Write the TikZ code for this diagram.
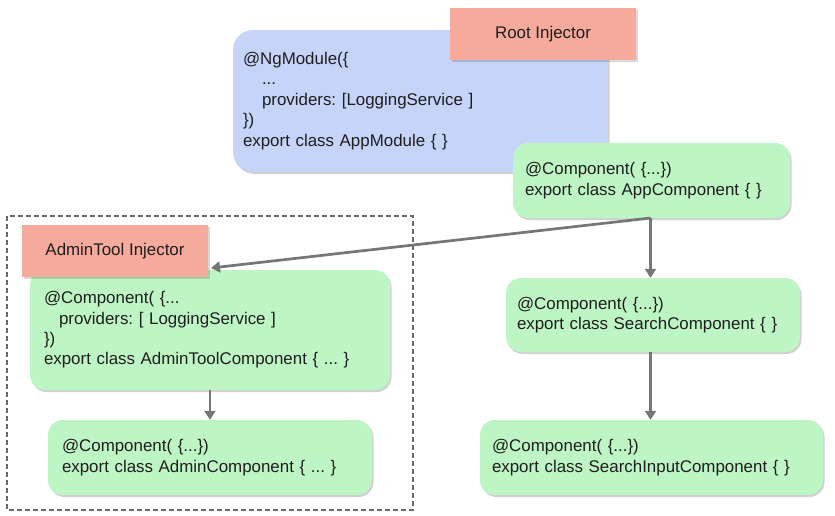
\documentclass[tikz,border=0pt]{standalone}
\usepackage{fontspec}
\setmainfont{Liberation Sans}
\usetikzlibrary{arrows.meta,shadows}
\definecolor{boxblue}{RGB}{198,212,250}
\definecolor{boxgreen}{RGB}{190,245,196}
\definecolor{injsalmon}{RGB}{246,170,155}
\definecolor{arrowgray}{RGB}{118,118,118}
\definecolor{dashgray}{RGB}{105,105,105}
\definecolor{txt}{RGB}{30,30,30}
\tikzset{
  codebox/.style={rounded corners=15pt, inner ysep=0pt, align=left, text=txt,
    font=\fontsize{16.9}{20.4}\selectfont\frenchspacing,
    drop shadow={shadow xshift=1.5pt, shadow yshift=-2pt, opacity=0.18, fill=black}},
  injbox/.style={fill=injsalmon, inner sep=0pt, text=txt, font=\fontsize{16.9}{20.4}\selectfont,
    drop shadow={shadow xshift=1.5pt, shadow yshift=-1.5pt, opacity=0.15, fill=black}},
  conn/.style={draw=arrowgray, line width=2.7pt, -{Triangle[width=11pt,length=9pt]}}
}
\begin{document}
\begin{tikzpicture}[x=1pt,y=-1pt]
\useasboundingbox[fill=white] (0,0) rectangle (835,515);
% dashed region
\draw[dashgray, line width=1.1pt, dash pattern=on 5pt off 3pt] (7,216) rectangle (413,510);
% module
\node[codebox, rounded corners=20pt, fill=boxblue, minimum width=375pt, minimum height=142pt,
  text width=355pt, inner xsep=10pt] (mod) at (420.5,101)
  {@NgModule(\{\\\hspace*{19pt}...\\\hspace*{19pt}providers: [LoggingService ]\\\})\\export class AppModule \{ \}};
\node[injbox, minimum width=186pt, minimum height=52pt] (rootinj) at (543,34) {Root Injector};
% app component
\node[codebox, fill=boxgreen, minimum width=277pt, minimum height=75pt,
  text width=253pt, inner xsep=12pt] (appc) at (651.5,180.5)
  {@Component( \{...\})\\export class AppComponent \{ \}};
% search
\node[codebox, fill=boxgreen, minimum width=294pt, minimum height=74pt,
  text width=272pt, inner xsep=11pt] (search) at (653,315)
  {@Component( \{...\})\\export class SearchComponent \{ \}};
\node[codebox, fill=boxgreen, minimum width=343pt, minimum height=75pt,
  text width=319pt, inner xsep=12pt] (searchin) at (651.5,457.5)
  {@Component( \{...\})\\export class SearchInputComponent \{ \}};
% admin tool
\node[codebox, fill=boxgreen, minimum width=360pt, minimum height=120pt,
  text width=332pt, inner xsep=14pt] (admintool) at (210,330)
  {@Component( \{...\\\hspace*{15pt}providers: [ LoggingService ]\\\})\\export class AdminToolComponent \{ ... \}};
\node[injbox, minimum width=186pt, minimum height=52pt] (admininj) at (115,251) {AdminTool Injector};
\node[codebox, fill=boxgreen, minimum width=324pt, minimum height=75pt,
  text width=296pt, inner xsep=14pt] (admin) at (210,457.5)
  {@Component( \{...\})\\export class AdminComponent \{ ... \}};
% connectors
\coordinate (appfork) at (650.5,218);
\coordinate (injtip) at (211,268);
\draw[conn] (appfork) -- (injtip);
\draw[conn] (appfork) -- (search.north -| appfork);
\draw[conn] (search.south -| appfork) -- (searchin.north -| appfork);
\draw[conn] (admintool.south) -- (admin.north);
\end{tikzpicture}
\end{document}
